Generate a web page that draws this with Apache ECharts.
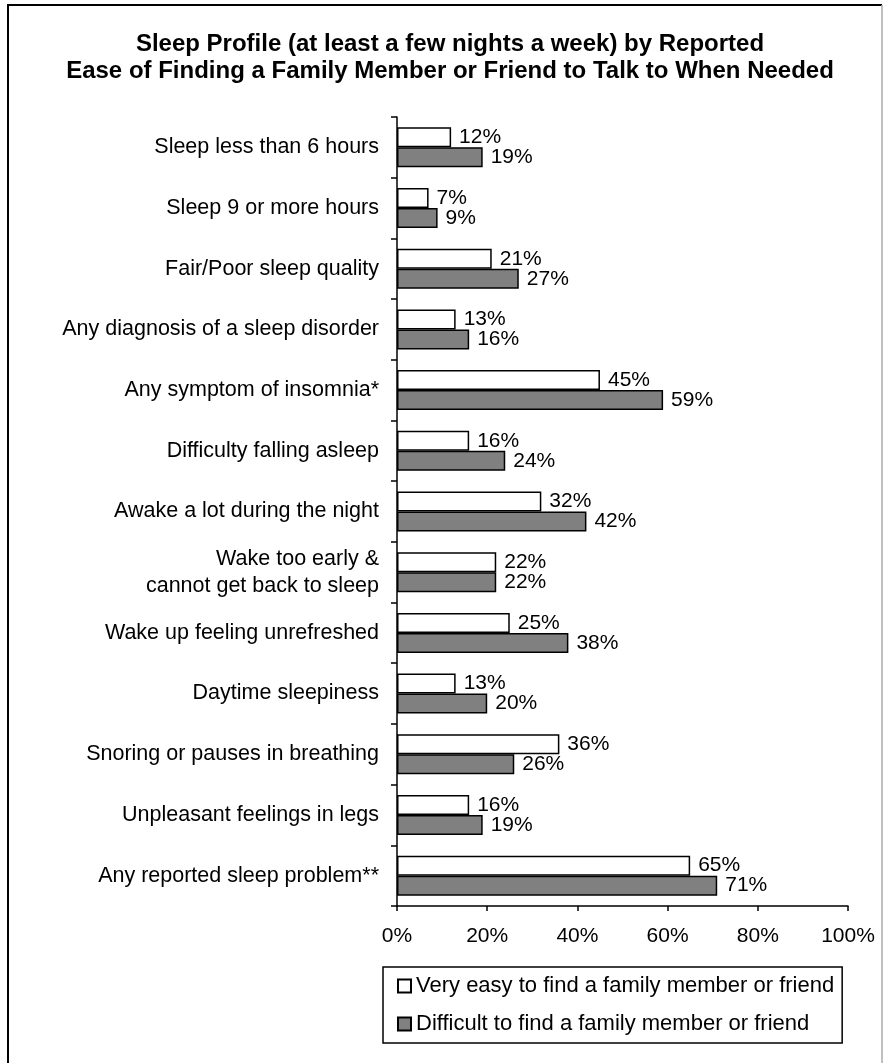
<!DOCTYPE html>
<html>
<head>
<meta charset="utf-8">
<script src="https://cdn.jsdelivr.net/npm/echarts@6/dist/echarts.min.js"></script>
<style>
html,body{margin:0;padding:0;background:#fff;}
#chart{width:883px;height:1063px;}
</style>
</head>
<body>
<div id="chart"></div>
<script>
const categories = [
  'Sleep less than 6 hours',
  'Sleep 9 or more hours',
  'Fair/Poor sleep quality',
  'Any diagnosis of a sleep disorder',
  'Any symptom of insomnia*',
  'Difficulty falling asleep',
  'Awake a lot during the night',
  'Wake too early &\ncannot get back to sleep',
  'Wake up feeling unrefreshed',
  'Daytime sleepiness',
  'Snoring or pauses in breathing',
  'Unpleasant feelings in legs',
  'Any reported sleep problem**'
];
const veryEasy = [12, 7, 21, 13, 45, 16, 32, 22, 25, 13, 36, 16, 65];
const difficult = [19, 9, 27, 16, 59, 24, 42, 22, 38, 20, 26, 19, 71];
const seriesNames = ['Very easy to find a family member or friend', 'Difficult to find a family member or friend'];
const titleLines = ['Sleep Profile (at least a few nights a week) by Reported', 'Ease of Finding a Family Member or Friend to Talk to When Needed'];

const FONT = 'Liberation Sans, Arial, sans-serif';
const chart = echarts.init(document.getElementById('chart'), null, {renderer: 'canvas'});

const barLabel = {
  show: true, position: 'right', distance: 8,
  formatter: '{c}%', color: '#000', fontSize: 21, fontFamily: FONT
};

chart.setOption({
  backgroundColor: '#fff',
  animation: false,
  title: {
    text: titleLines.join('\n'),
    left: 445, top: 26, textAlign: 'center',
    textStyle: {fontSize: 24, fontWeight: 'bold', fontFamily: FONT, color: '#000', lineHeight: 27}
  },
  graphic: [
    {type: 'polyline', shape: {points: [[8, 1070], [8, 5], [882, 5]]}, style: {stroke: '#000', lineWidth: 2, fill: null}},
    {type: 'line', shape: {x1: 882, y1: 5, x2: 882, y2: 1070}, style: {stroke: '#aaa', lineWidth: 1.5}}
  ],
  legend: {
    orient: 'vertical',
    left: 383, top: 967,
    padding: [8, 8, 8, 14],
    itemGap: 16,
    itemWidth: 13, itemHeight: 13,
    borderColor: '#000', borderWidth: 1.5,
    icon: 'rect',
    textStyle: {fontSize: 22, fontFamily: FONT, color: '#000'},
    data: seriesNames
  },
  grid: {left: 397, right: 35, top: 117, bottom: 157, containLabel: false},
  xAxis: {
    type: 'value', min: 0, max: 100, interval: 20,
    axisLine: {show: true, lineStyle: {color: '#000', width: 1.5}},
    axisTick: {show: true, length: 5, lineStyle: {color: '#000', width: 1.5}},
    splitLine: {show: false},
    axisLabel: {formatter: '{value}%', color: '#000', fontSize: 21, fontFamily: FONT, margin: 20}
  },
  yAxis: {
    type: 'category', inverse: true, data: categories,
    axisLine: {show: true, lineStyle: {color: '#000', width: 1.5}},
    axisTick: {show: true, length: 6, alignWithLabel: false, lineStyle: {color: '#000', width: 1.5}},
    axisLabel: {color: '#000', fontSize: 21.5, fontFamily: FONT, margin: 18, lineHeight: 27, align: 'right'}
  },
  series: [
    {
      name: seriesNames[0], type: 'bar', data: veryEasy,
      barWidth: 20, barGap: '0%',
      itemStyle: {color: '#fff', borderColor: '#000', borderWidth: 1.5},
      label: barLabel
    },
    {
      name: seriesNames[1], type: 'bar', data: difficult,
      barWidth: 20, barGap: '0%',
      itemStyle: {color: '#808080', borderColor: '#000', borderWidth: 1.5},
      label: barLabel
    }
  ]
});
</script>
</body>
</html>
